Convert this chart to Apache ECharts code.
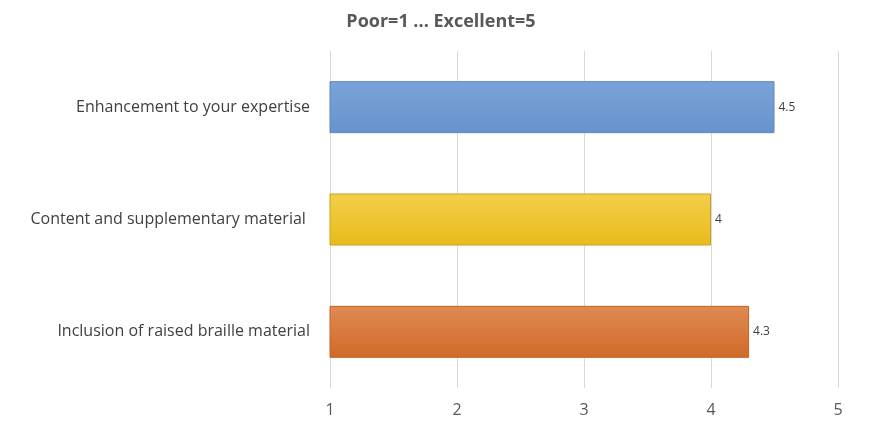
<!DOCTYPE html>
<html><head><meta charset="utf-8">
<script src="https://cdn.jsdelivr.net/npm/echarts@6/dist/echarts.min.js"></script>
<style>html,body{margin:0;padding:0;background:#fff}#c{width:882px;height:432px}</style>
</head><body><div id="c"></div>
<script>
const categories = ['Inclusion of raised braille material', 'Content and supplementary material ', 'Enhancement to your expertise'];
const values = [4.3, 4, 4.5];
const xTicks = [1, 2, 3, 4, 5];
const grads = [['#e08a52','#d06a28'],['#f3cf4a','#e8bb1c'],['#7aa3d9','#6892cc']];
const borders = ['#c0652a','#c9a21c','#5f86bd'];
const chart = echarts.init(document.getElementById('c'));
chart.setOption({
  animation:false,
  title:{text:'Poor=1 ... Excellent=5',left:'center',top:8,textStyle:{fontFamily:'Open Sans',fontSize:18,fontWeight:'bold',color:'#595959'}},
  grid:{left:330,right:44,top:51,bottom:44},
  xAxis:{type:'value',min:xTicks[0],max:xTicks[xTicks.length-1],interval:1,
    axisLine:{show:false},axisTick:{show:false},
    axisLabel:{fontFamily:'Open Sans',fontSize:16,color:'#595959',margin:14},
    splitLine:{lineStyle:{color:'#d9d9d9'}}},
  yAxis:{type:'category',data:categories,axisLine:{show:false},axisTick:{show:false},
    axisLabel:{fontFamily:'Open Sans',fontSize:16,color:'#404040',margin:20}},
  series:[{type:'bar',barWidth:52,
    data:values.map((v,i)=>({value:v,itemStyle:{borderColor:borders[i],borderWidth:1,
      color:new echarts.graphic.LinearGradient(0,0,0,1,[{offset:0,color:grads[i][0]},{offset:1,color:grads[i][1]}])}})),
    label:{show:true,position:'right',distance:4,fontFamily:'Open Sans',fontSize:12,color:'#404040'}}]
});
</script></body></html>
